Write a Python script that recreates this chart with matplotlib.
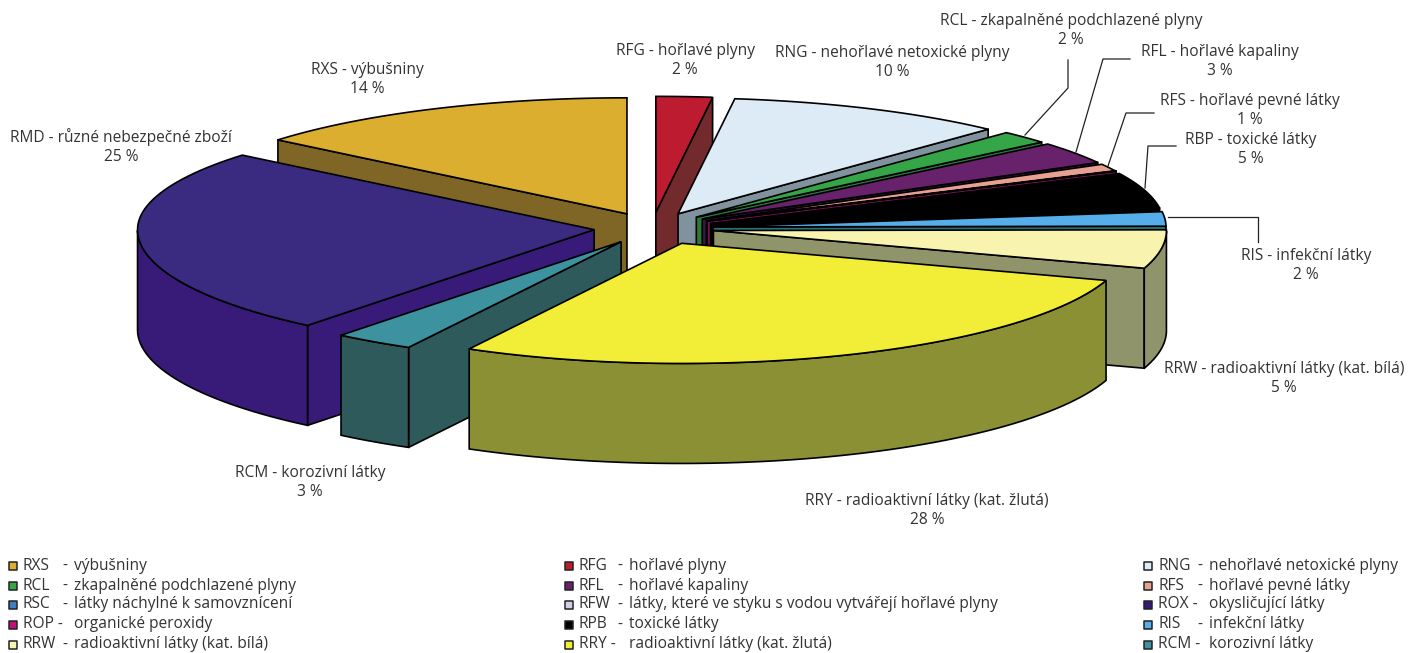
# -*- coding: utf-8 -*-
import numpy as np
import matplotlib
matplotlib.use('Agg')
import matplotlib.pyplot as plt
from matplotlib.patches import Polygon

plt.rcParams['font.family'] = ['Open Sans', 'DejaVu Sans']

# pie data, in drawing order round the circle
codes = ['RXS', 'RFG', 'RNG', 'RCL', 'RFL', 'RFS', 'RSC', 'RFW', 'ROX', 'ROP', 'RBP', 'RIS', 'RRW', 'RRY', 'RCM', 'RMD']
values = [14, 2, 10, 1.8, 3.1, 1, 0, 0, 0, 0, 5, 2, 5.1, 27.9, 2.9, 25.2]
tops = ['#DBAE2F', '#BD1C30', '#DCEBF6', '#35A648', '#68216B', '#E8A091', '#3C7FC0', '#CFCFE8', '#38187A', '#C0117A',
        '#000000', '#55AEEA', '#F8F4B0', '#F2EE37', '#3D929F', '#3A2A80']
walls = ['#7F6526', '#722A2C', '#7F929E', '#2A7A3A', '#3F1645', '#8A6058', '#2A5A88', '#8A8A9A', '#38187A', '#7A1050',
         '#000000', '#2F6F78', '#90946A', '#8B9035', '#2F5A5B', '#381A78']
# small per slice corrections for the perspective of the original
radius = [1, 1, 1, 1, 1, 1, 1, 1, 1, 1, 1, 1, 1, 0.985, 0.985, 1.008]
nudge = [1, 0, 0, 0, 0, 0, 0, 0, 0, 0, 0, 0, 1, 7, 3, 3]

label_names = ['RXS - výbušniny', 'RFG - hořlavé plyny', 'RNG - nehořlavé netoxické plyny',
               'RCL - zkapalněné podchlazené plyny', 'RFL - hořlavé kapaliny', 'RFS - hořlavé pevné látky',
               'RBP - toxické látky', 'RIS - infekční látky', 'RRW - radioaktivní látky (kat. bílá)',
               'RRY - radioaktivní látky (kat. žlutá)', 'RCM - korozivní látky', 'RMD - různé nebezpečné zboží']
label_pct = [14, 2, 10, 2, 3, 1, 5, 2, 5, 28, 3, 25]
label_x = [367, 685, 892, 1071, 1220, 1250, 1251, 1306, 1284, 927, 310, 121]
label_y = [79.5, 60.5, 62.5, 30.5, 61.5, 110.5, 149.5, 265.5, 378.5, 510.5, 482.5, 146.5]

leaders = [([1068, 1068, 1025], [60, 88, 135]),
           ([1130, 1103, 1076], [59, 59, 152]),
           ([1154, 1126, 1108], [113, 113, 166]),
           ([1176, 1148, 1145], [146, 146, 188]),
           ([1168, 1258, 1258], [217, 217, 242])]

legend_code = [['RXS', 'RCL', 'RSC', 'ROP -', 'RRW'],
               ['RFG', 'RFL', 'RFW', 'RPB', 'RRY -'],
               ['RNG', 'RFS', 'ROX -', 'RIS', 'RCM -']]
legend_desc = [['výbušniny', 'zkapalněné podchlazené plyny', 'látky náchylné k samovznícení',
                'organické peroxidy', 'radioaktivní látky (kat. bílá)'],
               ['hořlavé plyny', 'hořlavé kapaliny', 'látky, které ve styku s vodou vytvářejí hořlavé plyny',
                'toxické látky', 'radioaktivní látky (kat. žlutá)'],
               ['nehořlavé netoxické plyny', 'hořlavé pevné látky', 'okysličující látky',
                'infekční látky', 'korozivní látky']]
legend_cols = [['#DBAE2F', '#35A648', '#3C7FC0', '#C0117A', '#F8F4B0'],
               ['#BD1C30', '#68216B', '#CFCFE8', '#000000', '#F2EE37'],
               ['#DCEBF6', '#E8A091', '#38187A', '#55AEEA', '#3D929F']]
legend_x = [9, 565, 1144]
legend_dx = [65, 64, 65]
legend_y = [565.5, 585.5, 604.5, 624.5, 644.5]

cx, cy = 652, 228
a, b_top, b_bot = 453, 116, 122
explode = 0.135
depth = 100
start = 360 * 86 / 100.0
font = 11.2

def pt(t):
    # ellipse point for clock angle t (degrees), a bit more open at the front
    s = np.sin(np.radians(t))
    c = np.cos(np.radians(t))
    b = np.where(c > 0, b_top, b_bot)
    return a * s, -b * c

fig = plt.figure(figsize=(14.08, 6.53), dpi=100)
ax = fig.add_axes([0, 0, 1, 1])
ax.set_xlim(0, 1408)
ax.set_ylim(653, 0)
ax.axis('off')

# angles of the slices
v = np.array(values, dtype=float)
t0 = start + 360 * np.concatenate(([0], np.cumsum(v)[:-1])) / v.sum()
t1 = t0 + 360 * v / v.sum()
mid = (t0 + t1) / 2

z = 2
for i in np.argsort(-np.cos(np.radians(mid)), kind='stable'):
    mx, my = pt(mid[i])
    ox = cx + explode * mx + nudge[i]
    oy = cy + explode * my
    ts = np.linspace(t0[i], t1[i], 60)
    rx, ry = pt(ts)
    rx = rx * radius[i] + ox
    ry = ry * radius[i] + oy

    # flat side walls
    e0 = t0[i] % 360
    e1 = t1[i] % 360
    if 0 < e1 < 180:
        ax.add_patch(Polygon([(ox, oy), (rx[-1], ry[-1]), (rx[-1], ry[-1] + depth), (ox, oy + depth)],
                             fc=walls[i], ec='k', lw=1.2, zorder=z))
    if 180 < e0 < 360:
        ax.add_patch(Polygon([(ox, oy), (rx[0], ry[0]), (rx[0], ry[0] + depth), (ox, oy + depth)],
                             fc=walls[i], ec='k', lw=1.2, zorder=z))
    # outer wall, only the front half shows
    front = np.cos(np.radians(ts)) <= 0
    if front.sum() > 1:
        fx = rx[front]
        fy = ry[front]
        ax.add_patch(Polygon(np.column_stack((np.r_[fx, fx[::-1]], np.r_[fy, fy[::-1] + depth])),
                             fc=walls[i], ec='k', lw=1.2, zorder=z))
    # top
    ax.add_patch(Polygon(np.column_stack((np.r_[ox, rx], np.r_[oy, ry])),
                         fc=tops[i], ec='k', lw=1.2, zorder=z))
    z += 1

for lx, ly in leaders:
    ax.plot(lx, ly, color='#222222', lw=0.9, zorder=1)

for name, p, x, y in zip(label_names, label_pct, label_x, label_y):
    ax.text(x, y, '%s\n%d %%' % (name, p), ha='center', va='center', fontsize=font,
            color='#333333', linespacing=1.28)

for col in range(3):
    for row in range(5):
        ax.scatter(legend_x[col] + 4, legend_y[row], s=30, marker='s', color=legend_cols[col][row],
                   edgecolors='#222222', linewidths=1.1, zorder=5)
        code = legend_code[col][row]
        ax.text(legend_x[col] + 14, legend_y[row], code, ha='left', va='center', fontsize=font, color='#333333')
        if '-' not in code:
            ax.text(legend_x[col] + legend_dx[col] - 9, legend_y[row], '-', ha='center', va='center',
                    fontsize=font, color='#333333')
        ax.text(legend_x[col] + legend_dx[col], legend_y[row], legend_desc[col][row], ha='left', va='center',
                fontsize=font, color='#333333')

fig.savefig('out.png', dpi=100)
